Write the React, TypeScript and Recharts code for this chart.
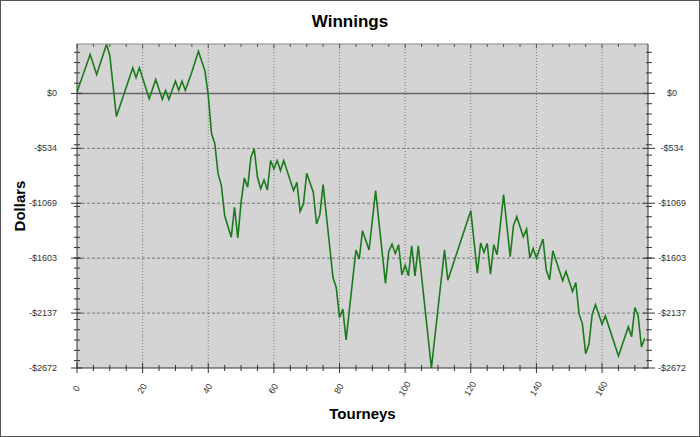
import React from 'react';
import { LineChart, Line, XAxis, YAxis, CartesianGrid, ReferenceLine } from 'recharts';

// vertices of the winnings line (tourney number, running total in dollars)
const tourneys = [
  0, 4, 6, 9, 10, 12, 17, 18, 19, 22, 24, 26, 27, 28, 30, 31, 32, 33, 35, 37,
  39, 40, 41, 42, 43, 44, 45, 47, 48, 49, 50, 51, 52, 53, 54, 55, 56, 57, 58, 59,
  60, 61, 62, 63, 66, 67, 68, 69, 70, 72, 73, 74, 75, 78, 79, 80, 81, 82, 85, 86,
  87, 89, 91, 94, 95, 96, 97, 98, 99, 100, 101, 102, 103, 104, 108, 112, 113, 120, 122, 123,
  124, 125, 126, 127, 128, 130, 132, 133, 134, 136, 137, 138, 139, 140, 142, 143, 144, 145, 148, 149,
  151, 152, 153, 154, 155, 156, 157, 158, 160, 161, 165, 168, 169, 170, 171, 172, 173,
];
const winnings = [
  13, 380, 185, 478, 370, -224, 250, 153, 250, -52, 136, -58, 29, -58, 120, 29, 120, 29, 208, 410,
  218, -20, -393, -490, -783, -897, -1190, -1400, -1108, -1407, -1060, -822, -913, -621, -539, -816, -929, -841, -939, -653,
  -734, -653, -751, -653, -946, -865, -1148, -1076, -777, -962, -1271, -1180, -887, -1791, -1889, -2181, -2099, -2399, -1524, -1612,
  -1336, -1524, -946, -1850, -1538, -1466, -1557, -1472, -1765, -1672, -1775, -1482, -1775, -1482, -2672, -1521, -1817, -1141, -1748, -1456,
  -1547, -1460, -1758, -1472, -1570, -985, -1589, -1287, -1199, -1394, -1320, -1602, -1508, -1602, -1417, -1719, -1814, -1531, -1823, -1733,
  -1928, -1840, -2148, -2240, -2532, -2441, -2148, -2057, -2246, -2165, -2555, -2272, -2369, -2083, -2165, -2467, -2382,
];

const xMajorTicks = [0, 20, 40, 60, 80, 100, 120, 140, 160];
const xAllTicks = Array.from({ length: 35 }, (_, i) => i * 5);

const yMajorTicks = [0, -534.4, -1068.8, -1603.2, -2137.6, -2672];
const yTickLabels = ['$0', '-$534', '-$1069', '-$1603', '-$2137', '-$2672'];
const yMinorTicks = [
  400, 300, 200, 100, -100, -200, -300, -400, -500, -600, -700, -800, -900, -1000, -1100, -1200, -1300,
  -1400, -1500, -1600, -1700, -1800, -1900, -2000, -2100, -2200, -2300, -2400, -2500, -2600,
];

const data = tourneys.map((t, i) => ({ t, winnings: winnings[i] }));

const X_DOMAIN = [0, 174];
const Y_DOMAIN = [-2672, 481];

const tickFont = { fontFamily: 'Arial, "Liberation Sans", sans-serif', fontSize: 9, fill: '#333' };

const majorY = (v: number) => yMajorTicks.findIndex((m) => Math.abs(m - v) < 0.01);

const BottomTick = (props: any) => {
  const { x, y, payload } = props;
  const major = xMajorTicks.includes(payload.value);
  const h = major ? 5 : 3;
  return (
    <g>
      <line x1={x} x2={x} y1={y - h} y2={y + h} stroke="#333" />
      {major && (
        <text
          transform={`translate(${x},${y + 21}) rotate(-60)`}
          textAnchor="middle"
          dominantBaseline="middle"
          {...tickFont}
        >
          {payload.value}
        </text>
      )}
    </g>
  );
};

const TopTick = (props: any) => {
  const { x, y, payload } = props;
  const major = xMajorTicks.includes(payload.value);
  return <line x1={x} x2={x} y1={y} y2={y + (major ? 4 : 3)} stroke="#555" />;
};

const LeftTick = (props: any) => {
  const { x, y, payload } = props;
  const idx = majorY(payload.value);
  const major = idx >= 0;
  return (
    <g>
      <line x1={x - (major ? 6 : 3)} x2={x + (major ? 5 : 3)} y1={y} y2={y} stroke="#333" />
      {major && (
        <text x={x - 20} y={y} dy={3} textAnchor="end" {...tickFont}>
          {yTickLabels[idx]}
        </text>
      )}
    </g>
  );
};

const RightTick = (props: any) => {
  const { x, y, payload } = props;
  const idx = majorY(payload.value);
  const major = idx >= 0;
  return (
    <g>
      <line x1={x - (major ? 5 : 2)} x2={x + (major ? 7 : 4)} y1={y} y2={y} stroke="#333" />
      {major && (
        <text x={x + 24} y={y} dy={3} textAnchor="middle" {...tickFont}>
          {yTickLabels[idx]}
        </text>
      )}
    </g>
  );
};

const labelFont: React.CSSProperties = {
  position: 'absolute',
  fontFamily: 'Arial, "Liberation Sans", sans-serif',
  fontWeight: 'bold',
  color: '#000',
  textAlign: 'center',
  whiteSpace: 'nowrap',
};

export default function App() {
  return (
    <div
      style={{
        position: 'absolute',
        left: 0,
        top: 0,
        width: 700,
        height: 437,
        boxSizing: 'border-box',
        border: '1px solid #555',
        background: '#fff',
      }}
    >
      <div style={{ ...labelFont, left: 0, top: 11, width: 698, fontSize: 17, lineHeight: '20px' }}>Winnings</div>
      <div style={{ ...labelFont, left: 76, top: 404, width: 571, fontSize: 15, lineHeight: '18px' }}>Tourneys</div>
      <div
        style={{
          ...labelFont,
          left: 20 - 100 - 1,
          top: 206 - 10 - 1,
          width: 200,
          fontSize: 15,
          lineHeight: '20px',
          transform: 'rotate(-90deg)',
        }}
      >
        Dollars
      </div>
      <div style={{ position: 'absolute', left: 0, top: 0 }}>
        <LineChart width={698} height={435} data={data} margin={{ top: 0, right: 0, bottom: 0, left: 0 }}>
          <CartesianGrid xAxisId="bottom" yAxisId="left" horizontal={false} vertical={false} fill="#d4d4d4" stroke="none" />
          <XAxis
            xAxisId="bottom"
            dataKey="t"
            type="number"
            domain={X_DOMAIN}
            allowDataOverflow
            ticks={xAllTicks}
            interval={0}
            height={68}
            tickSize={0}
            tickMargin={0}
            tickLine={false}
            axisLine={{ stroke: '#333' }}
            tick={BottomTick}
          />
          <XAxis
            xAxisId="top"
            orientation="top"
            dataKey="t"
            type="number"
            domain={X_DOMAIN}
            allowDataOverflow
            ticks={xAllTicks}
            interval={0}
            height={43}
            tickSize={0}
            tickMargin={0}
            tickLine={false}
            axisLine={{ stroke: '#888' }}
            tick={TopTick}
          />
          <YAxis
            yAxisId="left"
            type="number"
            domain={Y_DOMAIN}
            allowDataOverflow
            ticks={[...yMajorTicks, ...yMinorTicks]}
            interval={0}
            width={76}
            tickSize={0}
            tickMargin={0}
            tickLine={false}
            axisLine={{ stroke: '#333' }}
            tick={LeftTick}
          />
          <YAxis
            yAxisId="right"
            orientation="right"
            type="number"
            domain={Y_DOMAIN}
            allowDataOverflow
            ticks={[...yMajorTicks, ...yMinorTicks]}
            interval={0}
            width={51}
            tickSize={0}
            tickMargin={0}
            tickLine={false}
            axisLine={{ stroke: '#333' }}
            tick={RightTick}
          />
          {yMajorTicks.slice(1, -1).map((v) => (
            <ReferenceLine key={`h${v}`} xAxisId="bottom" yAxisId="left" y={v} stroke="#777" strokeDasharray="3 2" />
          ))}
          {xMajorTicks.slice(1).map((v) => (
            <ReferenceLine key={`v${v}`} xAxisId="bottom" yAxisId="left" x={v} stroke="#777" strokeDasharray="1 2" />
          ))}
          <ReferenceLine xAxisId="bottom" yAxisId="left" y={0} stroke="#666" strokeWidth={1.5} />
          <Line
            xAxisId="bottom"
            yAxisId="left"
            type="linear"
            dataKey="winnings"
            stroke="#1b7a1b"
            strokeWidth={1.6}
            dot={false}
            isAnimationActive={false}
          />
        </LineChart>
      </div>
    </div>
  );
}
